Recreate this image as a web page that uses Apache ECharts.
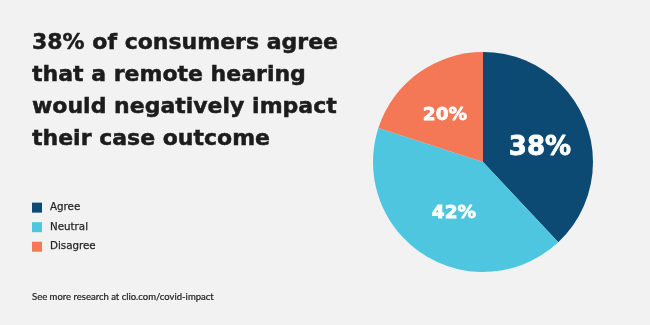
<!DOCTYPE html>
<html>
<head>
<meta charset="utf-8">
<script src="https://cdn.jsdelivr.net/npm/echarts@6/dist/echarts.min.js"></script>
<style>
html,body{margin:0;padding:0;background:#f2f2f2;}
#main{width:650px;height:325px;}
</style>
</head>
<body>
<div id="main"></div>
<script>
const categories = ['Agree', 'Neutral', 'Disagree'];
const values = [38, 42, 20];
const colors = ['#0d4a73', '#4fc6e0', '#f47756'];
const titleText = '38% of consumers agree\nthat a remote hearing\nwould negatively impact\ntheir case outcome';
const footerText = 'See more research at clio.com/covid-impact';
const labelSizes = [26, 18.5, 18.5];
const labelNudge = [[3, 8], [2, 2], [-4, 0]];

const chart = echarts.init(document.getElementById('main'), null, {renderer: 'canvas'});
chart.setOption({
  backgroundColor: '#f2f2f2',
  animation: false,
  title: [{
    text: titleText,
    left: 32,
    top: 27,
    padding: 0,
    textStyle: {
      fontFamily: 'DejaVu Sans',
      fontWeight: 'bold',
      fontSize: 22,
      lineHeight: 32,
      color: '#1c1c1c',
      textBorderColor: '#1c1c1c',
      textBorderWidth: 0.5
    }
  }, {
    text: footerText,
    left: 32,
    top: 292,
    padding: 0,
    textStyle: {
      fontFamily: 'Lato',
      fontWeight: 'normal',
      fontSize: 9.5,
      color: '#1e1e1e',
      textBorderColor: '#1e1e1e',
      textBorderWidth: 0.2
    }
  }],
  legend: {
    orient: 'vertical',
    left: 32,
    top: 202.5,
    padding: 0,
    icon: 'rect',
    itemWidth: 10,
    itemHeight: 10,
    itemGap: 9.3,
    data: categories,
    textStyle: {
      fontFamily: 'DejaVu Sans',
      fontSize: 10.3,
      color: '#262626',
      textBorderColor: '#262626',
      textBorderWidth: 0.25,
      padding: [0, 0, 0, 3]
    }
  },
  series: [{
    type: 'pie',
    center: [483, 162],
    radius: [0, 110],
    startAngle: 90,
    clockwise: true,
    avoidLabelOverlap: false,
    data: categories.map((c, i) => ({
      name: c,
      value: values[i],
      itemStyle: {color: colors[i]},
      label: {fontSize: labelSizes[i]}
    })),
    label: {
      show: true,
      position: 'inside',
      formatter: '{c}%',
      color: '#fff',
      fontFamily: 'DejaVu Sans',
      fontWeight: 'bold',
      textBorderColor: '#fff',
      textBorderWidth: 0.8
    },
    labelLayout: function (p) {
      const n = labelNudge[p.dataIndex];
      return {dx: n[0], dy: n[1]};
    },
    labelLine: {show: false},
    emphasis: {disabled: true}
  }]
});
</script>
</body>
</html>
